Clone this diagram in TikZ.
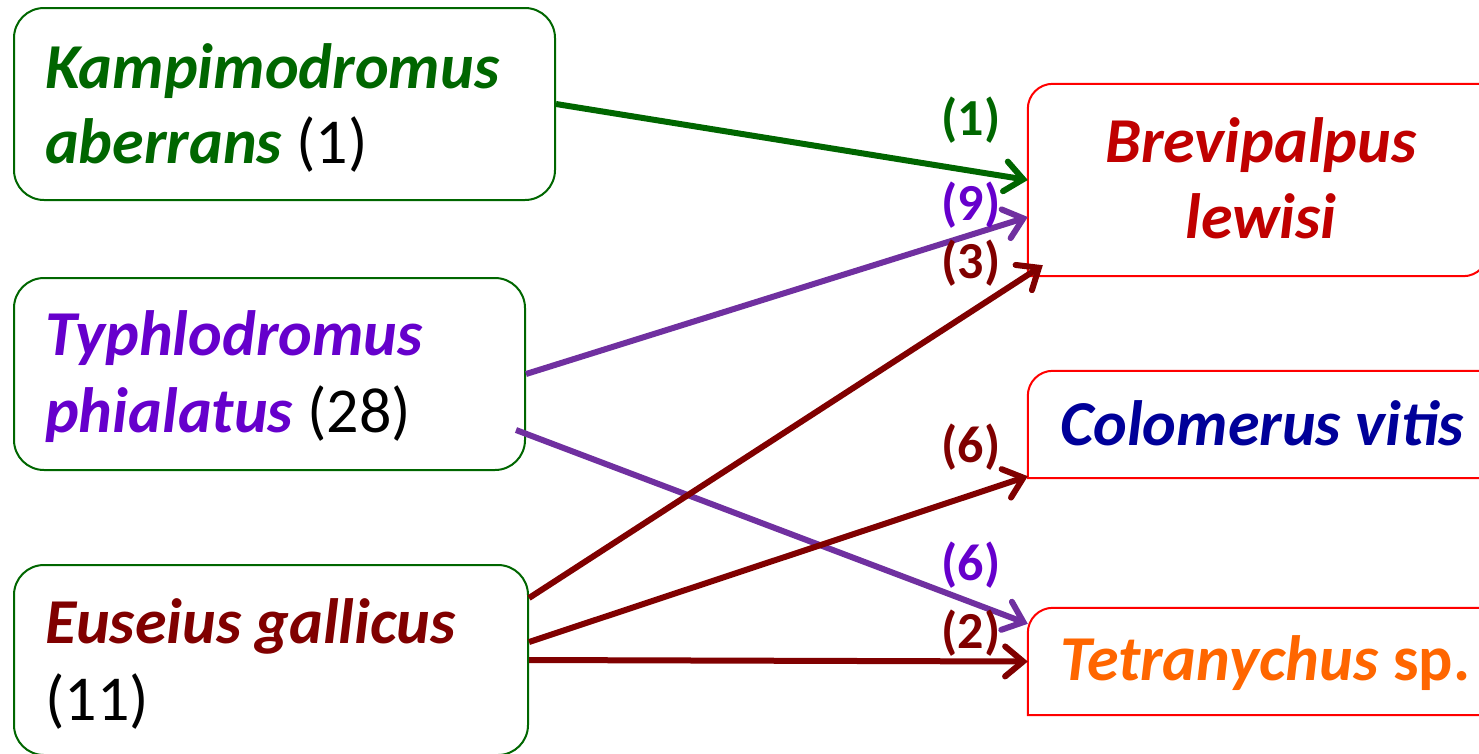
\documentclass[tikz,border=0pt]{standalone}
\usepackage{fontspec}
\setmainfont{Carlito}
\usetikzlibrary{arrows.meta,calc}
\definecolor{kgreen}{HTML}{006600}
\definecolor{tpurple}{HTML}{6600CC}
\definecolor{apurple}{HTML}{7030A0}
\definecolor{emaroon}{HTML}{800000}
\definecolor{bred}{HTML}{C00000}
\definecolor{cblue}{HTML}{000099}
\definecolor{torange}{HTML}{FF6600}
\tikzset{
  lbox/.style={draw=kgreen, line width=2pt, rounded corners=30pt, inner sep=0pt},
  rbox/.style={inner sep=0pt},
  rborder/.style={draw=red, line width=2pt},
  sp/.style={inner sep=0pt, font=\fontsize{64}{78}\selectfont\bfseries\itshape},
  num/.style={inner sep=0pt, font=\fontsize{64}{78}\selectfont},
  lab/.style={inner sep=0pt, font=\fontsize{52}{60}\selectfont\bfseries},
  arr/.style={line width=6pt, -{Straight Barb[length=18pt,width=30pt,line cap=round]}},
}
\newcommand{\cnt}[1]{{\normalfont\color{black}#1}}
\begin{document}
\begin{tikzpicture}[x=1pt,y=1pt]
\useasboundingbox (0,0) rectangle (1479,-753);
\clip (0,0) rectangle (1479,-753);
% left boxes
\node[lbox, minimum width=541pt, minimum height=192pt] (K) at (284.5,-104) {};
\node[lbox, minimum width=511pt, minimum height=192pt] (T) at (269.5,-374) {};
\node[lbox, minimum width=514pt, minimum height=190pt] (E) at (271,-660) {};
% right boxes
\node[rbox, minimum width=460pt, minimum height=192pt] (B) at (1258,-180) {};
\node[rbox, minimum width=480pt, minimum height=107pt] (C) at (1268,-424.5) {};
\node[rbox, minimum width=480pt, minimum height=107pt] (N) at (1268,-661.5) {};
\draw[rborder] (B.south west) -- ([yshift=-25pt]B.north west) arc[start angle=180,end angle=90,radius=25pt] -- (B.north east) -- ([yshift=25pt]B.south east) arc[start angle=0,end angle=-90,radius=25pt] -- cycle;
\draw[rborder] (C.south east) -- (C.south west) -- ([yshift=-25pt]C.north west) arc[start angle=180,end angle=90,radius=25pt] -- (C.north east);
\draw[rborder] (N.south east) -- (N.south west) -- ([yshift=-25pt]N.north west) arc[start angle=180,end angle=90,radius=25pt] -- (N.north east);
% texts
\node[sp, text=kgreen, anchor=base west] (k1) at (45,-88) {Kampimodromus};
\node[sp, text=kgreen, anchor=base west] (k2) at (45,-163) {aberrans \cnt{(1)}};
\node[sp, text=tpurple, anchor=base west] (t1) at (45,-355) {Typhlodromus};
\node[sp, text=tpurple, anchor=base west] (t2) at (45,-432) {phialatus \cnt{(28)}};
\node[sp, text=emaroon, anchor=base west] (e1) at (45,-643) {Euseius gallicus};
\node[num, anchor=base west] (e2) at (45,-720) {(11)};
\node[sp, text=bred, anchor=base] (b1) at (1261,-162) {Brevipalpus};
\node[sp, text=bred, anchor=base] (b2) at (1261,-238) {lewisi};
\node[sp, text=cblue, anchor=base west] (c1) at (1060,-445) {Colomerus vitis};
\node[sp, text=torange, anchor=base west] (n1) at (1060,-680) {Tetranychus\textup{ sp.}};
% connectors
\draw[arr, kgreen] (K.east) -- (B.west);
\draw[arr, apurple] (T.east) -- ([yshift=-37pt]B.west);
\draw[arr, apurple] ([shift={(-10pt,-56pt)}]T.east) -- ([yshift=-16pt]N.north west);
\draw[arr, emaroon] ([yshift=62pt]E.east) -- ([shift={(15pt,11pt)}]B.south west);
\draw[arr, emaroon] ([yshift=18pt]E.east) -- ([yshift=2pt]C.south west);
\draw[arr, emaroon] (E.east) -- (N.west);
% labels
\node[lab, text=kgreen] (l1) at (971,-120) {(1)};
\node[lab, text=tpurple] (l2) at (971,-205) {(9)};
\node[lab, text=emaroon] (l3) at (971,-263) {(3)};
\node[lab, text=emaroon] (l4) at (971,-447) {(6)};
\node[lab, text=tpurple] (l5) at (971,-565) {(6)};
\node[lab, text=emaroon] (l6) at (971,-633) {(2)};
\end{tikzpicture}
\end{document}
